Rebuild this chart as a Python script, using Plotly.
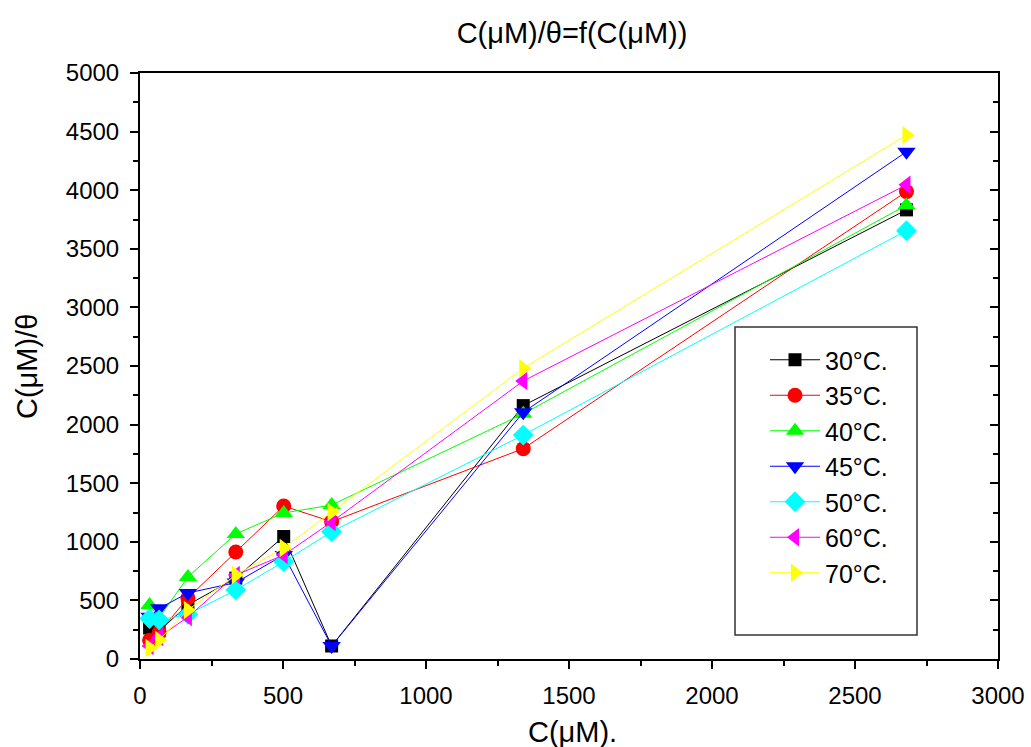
import plotly.graph_objects as go

conc = [33.5, 67, 167.5, 335, 502.5, 670, 1340, 2680]
names = ["30°C.", "35°C.", "40°C.", "45°C.", "50°C.", "60°C.", "70°C."]
t30 = [264, 240, 461, 690, 1045, 111, 2162, 3832]
t35 = [160, 228, 520, 913, 1305, 1172, 1795, 3988]
t40 = [460, 350, 700, 1067, 1246, 1314, 2092, 3872]
t45 = [360, 432, 563, 652, 887, 111, 2105, 4328]
t50 = [345, 333, 380, 589, 830, 1086, 1911, 3655]
t60 = [110, 188, 358, 717, 887, 1169, 2372, 4046]
t70 = [94, 162, 418, 717, 947, 1254, 2481, 4470]
series = [t30, t35, t40, t45, t50, t60, t70]
colors = ["#000000", "#FF0000", "#00FF00", "#0000FF", "#00FFFF", "#FF00FF", "#FFFF00"]
symbols = ["square", "circle", "triangle-up", "triangle-down", "diamond", "triangle-left", "triangle-right"]
sizes = [13, 15, 16, 16, 16, 16, 16]

FONT = "Liberation Sans, Arial, sans-serif"

fig = go.Figure()
for nm, ys, c, s, sz in zip(names, series, colors, symbols, sizes):
    fig.add_trace(go.Scatter(
        x=conc, y=ys, name=nm, mode="lines+markers",
        line=dict(color=c, width=1),
        marker=dict(symbol=s, size=sz, color=c, line=dict(width=0)),
    ))

axis_common = dict(showgrid=False, zeroline=False, showline=True, linecolor="black",
                   linewidth=2, ticks="outside", ticklen=8, tickwidth=2, tickcolor="black",
                   ticklabelstandoff=6, automargin=False,
                   tickfont=dict(family=FONT, size=24, color="black"))

fig.update_layout(
    width=1031, height=747,
    margin=dict(l=140, r=33, t=73, b=88, autoexpand=False),
    paper_bgcolor="white", plot_bgcolor="white",
    title=dict(text="C(μM)/θ=f(C(μM))", x=0.5035, xref="paper", xanchor="center",
               y=1 - 33 / 747, yref="container", yanchor="middle",
               font=dict(family=FONT, size=29, color="black")),
    xaxis=dict(range=[0, 3000], dtick=500, tick0=0,
               minor=dict(dtick=250, ticklen=5, ticks="outside", tickwidth=2, tickcolor="black"),
               mirror=True, **axis_common),
    yaxis=dict(range=[0, 5000], dtick=500, tick0=0,
               minor=dict(dtick=250, ticklen=5, ticks="outside", tickwidth=2, tickcolor="black"),
               mirror=True, **axis_common),
    yaxis2=dict(range=[0, 5000], overlaying="y", side="right", anchor="x", automargin=False,
                showgrid=False, zeroline=False, showline=False, showticklabels=False,
                ticks="inside", ticklen=8, tickwidth=2, tickcolor="black", dtick=500, tick0=0,
                minor=dict(dtick=250, ticklen=5, ticks="inside", tickwidth=2, tickcolor="black")),
    showlegend=True,
    legend=dict(x=(765 - 140) / 858, y=(659 - 337) / 586, xanchor="left", yanchor="top",
                bgcolor="rgba(0,0,0,0)", borderwidth=0,
                font=dict(family=FONT, size=25, color="black"),
                itemwidth=50, tracegroupgap=0),
    annotations=[
        dict(text="C(μM).", xref="paper", yref="paper", x=0.5035, y=-(732 - 659) / 586,
             xanchor="center", yanchor="middle", showarrow=False,
             font=dict(family=FONT, size=29, color="black")),
        dict(text="C(μM)/θ", xref="paper", yref="paper", x=-(140 - 27) / 858, y=0.5,
             xanchor="center", yanchor="middle", textangle=-90, showarrow=False,
             font=dict(family=FONT, size=29, color="black")),
    ],
    shapes=[
        dict(type="rect", xref="paper", yref="paper",
             x0=(735 - 140) / 858, x1=(917 - 140) / 858,
             y0=(659 - 635) / 586, y1=(659 - 327) / 586,
             line=dict(color="#333333", width=1.5), fillcolor="rgba(0,0,0,0)"),
    ],
)
fig.add_trace(go.Scatter(x=[None], y=[None], yaxis="y2", showlegend=False, hoverinfo="skip"))

fig.write_html("out.html")
